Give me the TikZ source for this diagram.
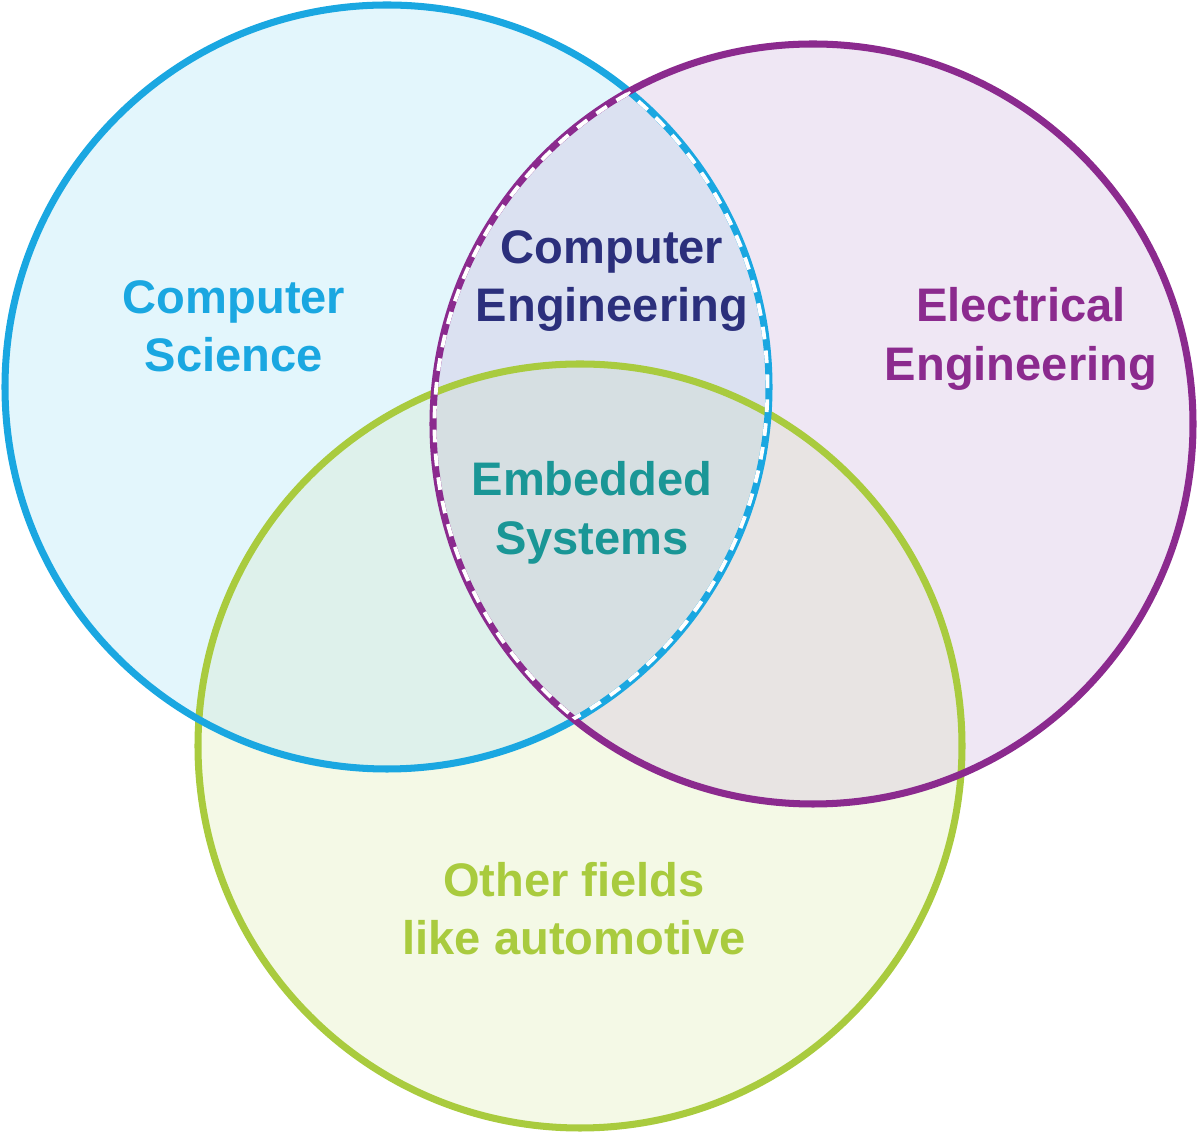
\documentclass[tikz,border=0pt]{standalone}
\usepackage{fontspec}
\setmainfont{Liberation Sans}
\usepackage{tikz}
\definecolor{csline}{HTML}{1AA7E1}
\definecolor{eeline}{HTML}{8B2A8E}
\definecolor{ofline}{HTML}{A9CB3E}
\definecolor{cstext}{HTML}{1AA7E1}
\definecolor{cetext}{HTML}{2B2F7C}
\definecolor{estext}{HTML}{1A9696}
\definecolor{csfill}{HTML}{E3F6FC}
\definecolor{eefill}{HTML}{EFE7F4}
\definecolor{offill}{HTML}{F4F9E6}
\definecolor{csoffill}{HTML}{DEF1EB}
\definecolor{eeoffill}{HTML}{E8E4E3}
\definecolor{cefill}{HTML}{DBE1F1}
\definecolor{esfill}{HTML}{D6DFE2}

\begin{document}
\begin{tikzpicture}[
    ring/.style={line width=2pt},
    lensdash/.style={white, line width=1.1pt, dash pattern=on 3.6pt off 3.2pt},
    label/.style={font=\fontsize{13.4}{16.6}\selectfont\bfseries, align=center}
  ]
                \useasboundingbox (0,0) rectangle (12,11.34);
                % centres
                \coordinate (cs) at (3.87,7.47);
                \coordinate (ee) at (8.13,7.10);
                \coordinate (of) at (5.80,3.88);
                % plain fills
                \fill[csfill] (cs) circle (3.82);
                \fill[eefill] (ee) circle (3.80);
                \fill[offill] (of) circle (3.82);
                % overlaps
                \begin{scope}
                    \clip (cs) circle (3.82);
                    \fill[csoffill] (of) circle (3.82);
                \end{scope}
                \begin{scope}
                    \clip (ee) circle (3.80);
                    \fill[eeoffill] (of) circle (3.82);
                \end{scope}
                \begin{scope}
                    \clip (cs) circle (3.82);
                    \fill[cefill] (ee) circle (3.80);
                    \clip (ee) circle (3.80);
                    \fill[esfill] (of) circle (3.82);
                \end{scope}
                % rings
                \draw[ring, ofline] (of) circle (3.82);
                \draw[ring, csline] (cs) circle (3.82);
                \draw[ring, eeline] (ee) circle (3.80);
                % dashed lens border
                \begin{scope}
                    \clip (cs) circle (3.82);
                    \draw[lensdash] (ee) circle (3.785);
                \end{scope}
                \begin{scope}
                    \clip (ee) circle (3.80);
                    \draw[lensdash] (cs) circle (3.805);
                \end{scope}
                % labels
                \node[label, cstext] (cslabel) at (2.34,8.08) {Computer\\Science};
                \node[label, cetext] (celabel) at (6.12,8.53) {Computer\\Engineering};
                \node[label, eeline] (eelabel) at (10.21,7.95) {Electrical\\Engineering};
                \node[label, estext] (eslabel) at (5.92,6.21) {Embedded\\Systems};
                \node[label, ofline] (oflabel) at (5.74,2.25) {Other fields\\like automotive};
            \end{tikzpicture}
\end{document}
